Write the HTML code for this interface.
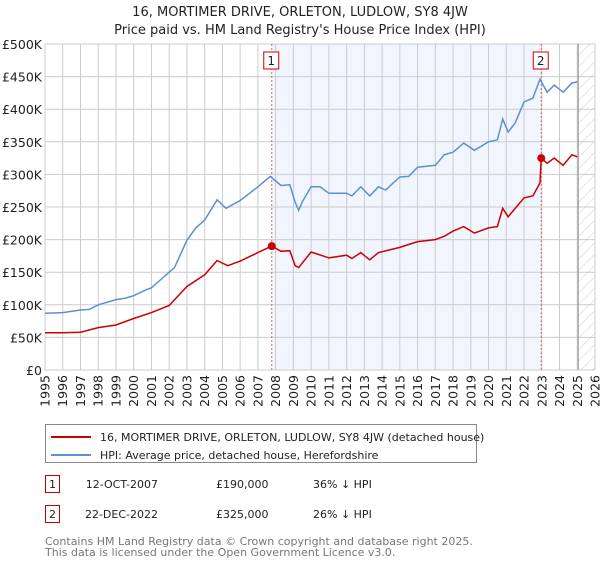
<!DOCTYPE html>
<html><head><meta charset="utf-8"><style>
body{margin:0;background:#fff;width:600px;height:560px;overflow:hidden;font-family:"DejaVu Sans","Liberation Sans",sans-serif}
svg text{font-family:"DejaVu Sans","Liberation Sans",sans-serif}
</style></head><body>
<svg id="c" width="600" height="560" xmlns="http://www.w3.org/2000/svg"></svg>
<script>
const yearTicks=[1995,1996,1997,1998,1999,2000,2001,2002,2003,2004,2005,2006,2007,2008,2009,2010,2011,2012,2013,2014,2015,2016,2017,2018,2019,2020,2021,2022,2023,2024,2025,2026];
const valueTicks=[0,50,100,150,200,250,300,350,400,450,500];
const valueLabels=["£0","£50K","£100K","£150K","£200K","£250K","£300K","£350K","£400K","£450K","£500K"];
const hpiYears=[1995,1996,1997,1997.5,1998,1999,1999.5,2000,2000.7,2001,2001.5,2002,2002.3,2003,2003.5,2004,2004.7,2005.2,2006,2007,2007.7,2008.3,2008.8,2009.1,2009.3,2009.5,2010,2010.5,2011,2012,2012.3,2012.8,2013.3,2013.8,2014.2,2015,2015.5,2016,2017,2017.5,2018,2018.6,2019.2,2020,2020.5,2020.8,2021.1,2021.5,2022,2022.5,2022.9,2023.3,2023.7,2024.2,2024.7,2025];
const hpiValues=[87,88,92,93,100,108,110,114,123,126,138,150,157,199,218,230,261,248,260,281,297,283,284,257,245,258,281,281,271,271,267,281,267,281,276,296,297,311,314,330,334,348,337,350,353,385,365,379,411,417,446,426,437,426,440,442];
const paidYears=[1995,1996,1997,1998,1999,2000,2001,2002,2003,2004,2004.7,2005.3,2006,2007,2007.78,2008.3,2008.8,2009.1,2009.3,2010,2011,2012,2012.3,2012.8,2013.3,2013.8,2015,2016,2017,2017.5,2018,2018.6,2019.2,2020,2020.5,2020.8,2021.1,2022,2022.5,2022.9,2022.97,2023.3,2023.7,2024.2,2024.7,2025];
const paidValues=[57,57,58,65,69,79,88,99,128,146,168,160,167,180,190,182,183,160,157,181,172,176,171,180,169,180,188,197,200,205,213,220,210,218,220,248,235,264,267,287,325,317,325,314,330,327];
const saleYears=[2007.78,2022.97];
const saleValues=[190,325];
const saleLabels=["1","2"];

const L=45,R=595,T=44,B=370;
const x=v=>L+(v-1995)/(2026-1995)*(R-L);
const y=v=>B-v/500*(B-T);
const svg=document.getElementById('c');
const NS="http://www.w3.org/2000/svg";
function mk(tag,attrs,name,text){const e=document.createElementNS(NS,tag);for(const k in attrs)e.setAttribute(k,attrs[k]);


if(text!==undefined)e.textContent=text;svg.appendChild(e);return e;}

mk('text',{x:300,y:16,'text-anchor':'middle','font-size':13,fill:'#222'},'chart-title','16, MORTIMER DRIVE, ORLETON, LUDLOW, SY8 4JW');
mk('text',{x:300,y:34,'text-anchor':'middle','font-size':13,fill:'#222'},'chart-subtitle',"Price paid vs. HM Land Registry's House Price Index (HPI)");
mk('rect',{x:x(saleYears[0]),y:T,width:x(saleYears[1])-x(saleYears[0]),height:B-T,fill:'#eef3fd',opacity:0.8},'ownership-shade');
const defs=document.createElementNS(NS,'defs');defs.innerHTML='<pattern id="h" width="8" height="8" patternUnits="userSpaceOnUse" patternTransform="rotate(45)"><line x1="0" y1="0" x2="0" y2="8" stroke="#ccc" stroke-width="1"/></pattern>';svg.appendChild(defs);
mk('rect',{x:x(2025.05),y:T,width:R-x(2025.05),height:B-T,fill:'url(#h)'},'forecast-hatch');
yearTicks.forEach(t=>{mk('line',{x1:x(t),x2:x(t),y1:T,y2:B,stroke:'#ccc','stroke-width':1},'x-gridline');
mk('text',{x:0,y:0,transform:`translate(${x(t)+4.5},${B+5}) rotate(-90)`,'text-anchor':'end','font-size':12.5,fill:'#222'},'x-tick-label',String(t));});
valueTicks.forEach((t,i)=>{mk('line',{x1:L,x2:R,y1:y(t),y2:y(t),stroke:'#ccc','stroke-width':1},'y-gridline');
mk('text',{x:L-3,y:y(t)+5,'text-anchor':'end','font-size':12.5,fill:'#222'},'y-tick-label',valueLabels[i]);});
mk('line',{x1:x(2025.05),x2:x(2025.05),y1:T,y2:B,stroke:'#888','stroke-width':1},'data-end-line');
saleYears.forEach((s,i)=>{mk('line',{x1:x(s),x2:x(s),y1:T,y2:B,stroke:'#e06666','stroke-width':1,'stroke-dasharray':'2,2'},'sale-marker-line');
mk('rect',{x:x(s)-8,y:52,width:15,height:17,fill:'#fff',stroke:'#c00'},'sale-label-box');
mk('text',{x:x(s)-0.5,y:65,'text-anchor':'middle','font-size':12,fill:'#222'},'sale-label',saleLabels[i]);});
const pts=(xs,vs)=>xs.map((a,i)=>x(a).toFixed(1)+','+y(vs[i]).toFixed(1)).join(' ');
mk('polyline',{points:pts(hpiYears,hpiValues),fill:'none',stroke:'#5b8fd6','stroke-width':1.5},'hpi-line');
mk('polyline',{points:pts(paidYears,paidValues),fill:'none',stroke:'#cc0000','stroke-width':1.5},'price-paid-line');
saleYears.forEach((s,i)=>mk('circle',{cx:x(s),cy:y(saleValues[i]),r:4,fill:'#cc0000'},'sale-point'));
mk('rect',{x:45.5,y:424.5,width:431,height:38,fill:'#fff',stroke:'#888'},'legend-box');
mk('line',{x1:51,x2:91,y1:437,y2:437,stroke:'#cc0000','stroke-width':2},'legend-swatch-price');
mk('text',{x:100,y:441,'font-size':11,fill:'#222'},'legend-entry-price','16, MORTIMER DRIVE, ORLETON, LUDLOW, SY8 4JW (detached house)');
mk('line',{x1:51,x2:91,y1:455,y2:455,stroke:'#5b8fd6','stroke-width':2},'legend-swatch-hpi');
mk('text',{x:100,y:459,'font-size':11,fill:'#222'},'legend-entry-hpi','HPI: Average price, detached house, Herefordshire');
const rows=[["1","12-OCT-2007","£190,000","36% ↓ HPI",475],["2","22-DEC-2022","£325,000","26% ↓ HPI",505]];
rows.forEach(r=>{mk('rect',{x:45.5,y:r[4]+0.5,width:14,height:17,fill:'#fff',stroke:'#c00'},'table-label-box');
mk('text',{x:52.5,y:r[4]+13,'text-anchor':'middle','font-size':11,fill:'#222'},'table-label',r[0]);
mk('text',{x:158,y:r[4]+13,'text-anchor':'end','font-size':11,fill:'#222'},'table-date',r[1]);
mk('text',{x:216,y:r[4]+13,'font-size':11,fill:'#222'},'table-price',r[2]);
mk('text',{x:313,y:r[4]+13,'font-size':11,fill:'#222'},'table-hpi-diff',r[3]);});
mk('text',{x:45,y:545,'font-size':11,fill:'#777'},'footer-line-1','Contains HM Land Registry data © Crown copyright and database right 2025.');
mk('text',{x:45,y:556,'font-size':11,fill:'#777'},'footer-line-2','This data is licensed under the Open Government Licence v3.0.');
</script>
</body></html>
